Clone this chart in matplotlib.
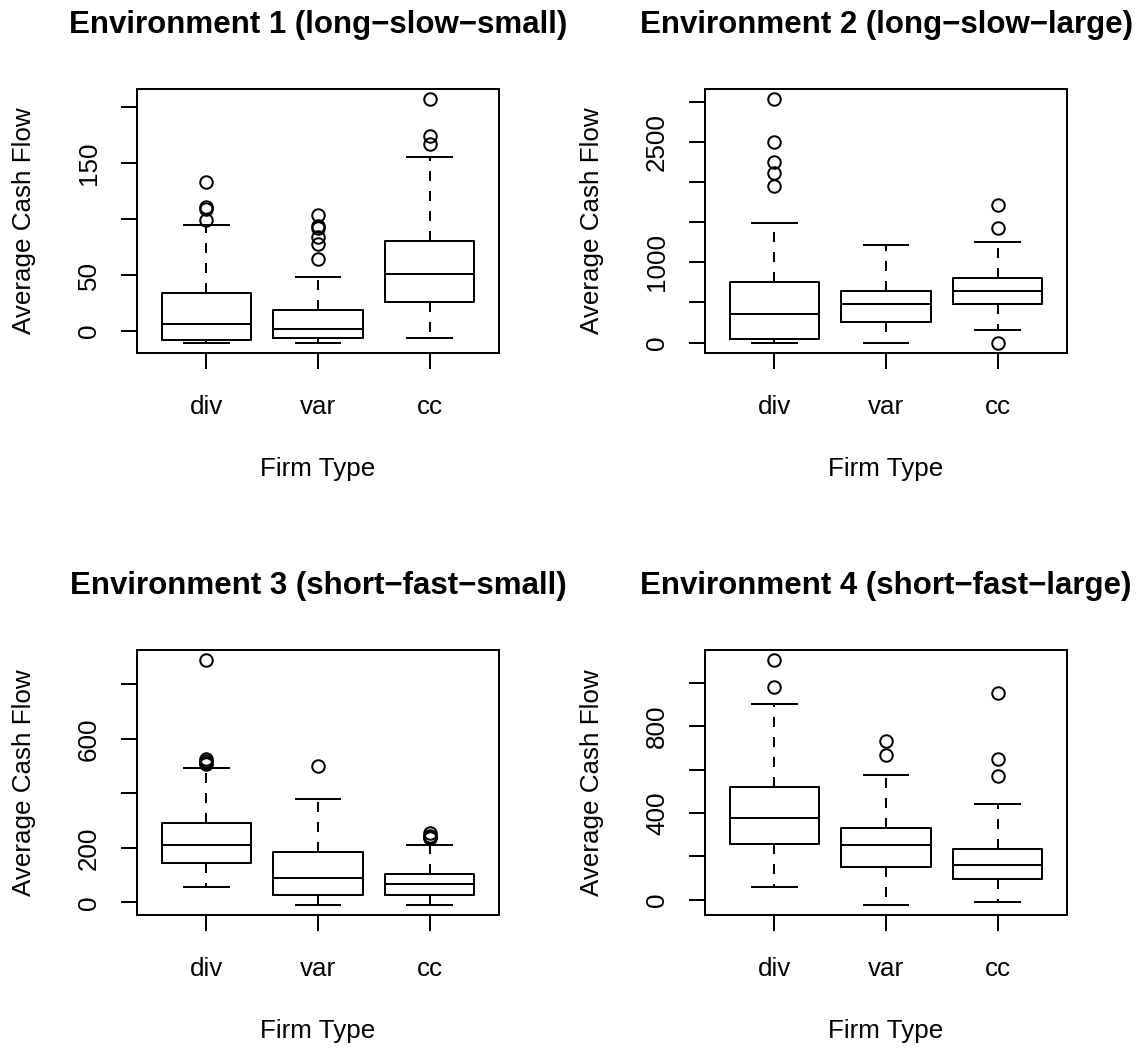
import matplotlib as mpl
mpl.use('Agg')
import matplotlib.pyplot as plt

plt.rcParams['font.family'] = ['Liberation Sans', 'DejaVu Sans']

firm_types = ['div', 'var', 'cc']
titles = ['Environment 1 (long\u2212slow\u2212small)',
          'Environment 2 (long\u2212slow\u2212large)',
          'Environment 3 (short\u2212fast\u2212small)',
          'Environment 4 (short\u2212fast\u2212large)']

# lower whisker, Q1, median, Q3, upper whisker  (div, var, cc)
env1_stats = [[-10.1, -7.4, 6.5, 33.8, 94.7],
              [-10.7, -6.2, 2.1, 19.3, 48.1],
              [-6.2, 26.4, 51.0, 80.7, 155.8]]
env1_out = [[133.5, 110.4, 109.0, 99.1],
            [103.9, 94.1, 92.0, 83.7, 77.7, 64.7],
            [207.4, 174.5, 167.1]]

env2_stats = [[-8, 50, 361, 755, 1490],
              [-8, 261, 477, 647, 1220],
              [162, 481, 639, 801, 1257]]
env2_out = [[3037, 2494, 2253, 2108, 1954],
            [],
            [1714, 1427, -8]]

env3_stats = [[57.5, 144, 209, 290, 494],
              [-10, 26, 90.5, 186, 379],
              [-10, 29, 66, 103, 210]]
env3_out = [[890, 525, 518, 512, 508],
            [500],
            [253, 245, 240, 235]]

env4_stats = [[57, 256, 378, 520.5, 904],
              [-25, 149, 252, 329, 576],
              [-11, 98, 160, 236, 442]]
env4_out = [[1106, 981],
            [734, 669],
            [955, 648, 570]]

y_ticks = [[0, 50, 100, 150, 200],
           [0, 500, 1000, 1500, 2000, 2500, 3000],
           [0, 200, 400, 600, 800],
           [0, 200, 400, 600, 800, 1000]]
y_labels = [['0', '50', '', '150', ''],
            ['0', '', '1000', '', '', '2500', ''],
            ['0', '200', '', '600', ''],
            ['0', '', '400', '', '800', '']]

all_stats = [env1_stats, env2_stats, env3_stats, env4_stats]
all_out = [env1_out, env2_out, env3_out, env4_out]

W, H = 1137, 1048
# plot regions in pixels: left, top, right, bottom
regions = [(137, 89, 499, 353), (705, 89, 1067, 353),
           (137, 650, 499, 915), (705, 650, 1067, 915)]
LW = 1.44
FS = 18.7

fig = plt.figure(figsize=(W / 100, H / 100), dpi=100)
for i in range(4):
    l, t, r, b = regions[i]
    ax = fig.add_axes([l / W, 1 - b / H, (r - l) / W, (b - t) / H])
    stats = []
    for s, f in zip(all_stats[i], all_out[i]):
        stats.append(dict(whislo=s[0], q1=s[1], med=s[2], q3=s[3],
                          whishi=s[4], fliers=f))
    ax.bxp(stats, positions=[1, 2, 3], widths=0.8, capwidths=0.4,
           boxprops=dict(color='k', lw=LW),
           medianprops=dict(color='k', lw=LW),
           whiskerprops=dict(color='k', lw=LW, linestyle=(0, (5, 5))),
           capprops=dict(color='k', lw=LW),
           flierprops=dict(marker='o', mfc='none', mec='k', ms=9, mew=LW))

    vals = [v for s in all_stats[i] for v in s] + [v for f in all_out[i] for v in f]
    lo, hi = min(vals), max(vals)
    d = 0.04 * (hi - lo)
    ax.set_ylim(lo - d, hi + d)
    ax.set_xlim(0.38, 3.62)

    ax.set_xticks([1, 2, 3], firm_types)
    ax.set_yticks(y_ticks[i], y_labels[i])
    ax.tick_params(axis='both', length=11.5, width=LW, labelsize=FS)
    ax.tick_params(axis='x', pad=18.5)
    ax.tick_params(axis='y', pad=14.5, labelrotation=90)
    for lab in ax.get_yticklabels():
        lab.set_va('center')
    for sp in ax.spines.values():
        sp.set_linewidth(LW)

    ax.set_title(titles[i], fontsize=22.5, fontweight='bold', pad=40)
    ax.set_xlabel('Firm Type', fontsize=FS, va='baseline')
    ax.xaxis.set_label_coords(0.5, -123 / (b - t))
    ax.set_ylabel('Average Cash Flow', fontsize=FS, va='center')
    ax.yaxis.set_label_coords(-113 / (r - l), 0.5)

fig.savefig('out.png', dpi=100)
